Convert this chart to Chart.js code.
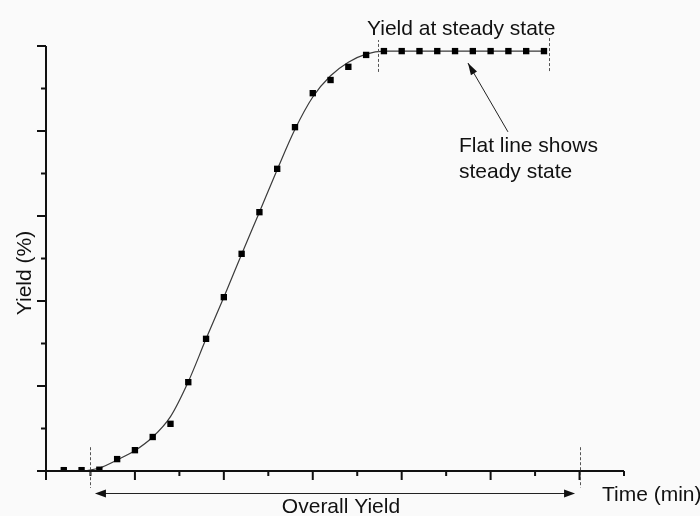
<!DOCTYPE html>
<html>
<head>
<meta charset="utf-8">
<script src="https://cdn.jsdelivr.net/npm/chart.js@4.4.1/dist/chart.umd.min.js"></script>
<style>
  html, body { margin: 0; padding: 0; background: #fafafa; }
  #wrap { width: 700px; height: 516px; position: relative; }
</style>
</head>
<body>
<div id="wrap"><canvas id="yieldChart"></canvas></div>
<script>
// measured yield (%), one sample every 4 min
const sampleTimes = [4, 8, 12, 16, 20, 24, 28, 32, 36, 40, 44, 48, 52, 56,
    60, 64, 68, 72, 76, 80, 84, 88, 92, 96, 100, 104, 108, 112];
const sampleYield = [0.2, 0.2, 0.3, 2.8, 4.9, 8.0, 11.1, 20.9, 31.1, 40.9, 51.1, 60.9, 71.1, 80.9,
    88.9, 92.0, 95.1, 97.9, 98.8, 98.8, 98.8, 98.8, 98.8, 98.8, 98.8, 98.8, 98.8, 98.8];

// fitted curve
const fitTimes = [8.8, 12, 16, 20, 24, 28, 32, 36, 40, 44, 48, 52, 56, 60, 64, 68, 72, 76, 84, 96, 112];
const fitYield = [0, 0.7, 2.6, 4.8, 8.0, 12.8, 21.0, 31.1, 40.9, 51.0, 60.9, 70.9, 80.4, 88.0,
    93.0, 96.2, 98.1, 98.8, 98.8, 98.8, 98.8];

// axis ticks (no labels on either axis)
const xMajorTicks = [0, 20, 40, 60, 80, 100, 120];
const xMinorTicks = [10, 30, 50, 70, 90, 110, 130];
const yMajorTicks = [0, 20, 40, 60, 80, 100];
const yMinorTicks = [10, 30, 50, 70, 90];

const FONT = '21px "Liberation Sans", Arial, sans-serif';
const INK = '#111';

function arrowHead(ctx, fx, fy, tx, ty, len, half) {
    const a = Math.atan2(ty - fy, tx - fx);
    ctx.beginPath();
    ctx.moveTo(tx, ty);
    ctx.lineTo(tx - len * Math.cos(a) + half * Math.sin(a), ty - len * Math.sin(a) - half * Math.cos(a));
    ctx.lineTo(tx - len * Math.cos(a) - half * Math.sin(a), ty - len * Math.sin(a) + half * Math.cos(a));
    ctx.closePath();
    ctx.fill();
}

function dashedV(ctx, x, y, t, fromVal, toVal) {
    const px = Math.round(x.getPixelForValue(t)) + 0.5;
    ctx.beginPath();
    ctx.moveTo(px, y.getPixelForValue(fromVal));
    ctx.lineTo(px, y.getPixelForValue(toVal));
    ctx.stroke();
}

const axesPlugin = {
    id: 'axes',
    afterDatasetsDraw(chart) {
        const { ctx, scales: { x, y } } = chart;
        const x0 = x.getPixelForValue(0), x1 = x.getPixelForValue(130);
        const y0 = y.getPixelForValue(0), y1 = y.getPixelForValue(100);
        ctx.save();
        ctx.strokeStyle = INK;
        ctx.lineWidth = 2;
        ctx.beginPath();
        ctx.moveTo(x0, y1);
        ctx.lineTo(x0, y0);
        ctx.lineTo(x1, y0);
        xMajorTicks.forEach(v => { const p = x.getPixelForValue(v); ctx.moveTo(p, y0); ctx.lineTo(p, y0 + 9); });
        xMinorTicks.forEach(v => { const p = x.getPixelForValue(v); ctx.moveTo(p, y0); ctx.lineTo(p, y0 + 5); });
        yMajorTicks.forEach(v => { const p = y.getPixelForValue(v); ctx.moveTo(x0, p); ctx.lineTo(x0 - 9, p); });
        yMinorTicks.forEach(v => { const p = y.getPixelForValue(v); ctx.moveTo(x0, p); ctx.lineTo(x0 - 5, p); });
        ctx.stroke();
        ctx.restore();
    }
};

const notesPlugin = {
    id: 'notes',
    afterDraw(chart) {
        const { ctx, scales: { x, y } } = chart;
        ctx.save();

        // dashed markers
        ctx.strokeStyle = '#555';
        ctx.lineWidth = 1;
        ctx.setLineDash([3, 2]);
        dashedV(ctx, x, y, 74.7, 93.9, 101.4);
        dashedV(ctx, x, y, 113.1, 94.1, 102.1);
        dashedV(ctx, x, y, 10, 5.6, -4.0);
        dashedV(ctx, x, y, 120, 5.6, -3.9);
        ctx.setLineDash([]);

        // overall yield double arrow
        ctx.strokeStyle = '#222';
        ctx.fillStyle = '#111';
        const ay = Math.round(y.getPixelForValue(-5.2)) + 0.5;
        const ax0 = x.getPixelForValue(11), ax1 = x.getPixelForValue(119);
        ctx.beginPath();
        ctx.moveTo(ax0 + 6, ay);
        ctx.lineTo(ax1 - 6, ay);
        ctx.stroke();
        arrowHead(ctx, ax1, ay, ax0, ay, 11, 4);
        arrowHead(ctx, ax0, ay, ax1, ay, 11, 4);

        // pointer to the flat line
        const fx = x.getPixelForValue(103.9), fy = y.getPixelForValue(79.8);
        const tx = x.getPixelForValue(94.9), ty = y.getPixelForValue(96);
        ctx.beginPath();
        ctx.moveTo(fx, fy);
        ctx.lineTo(tx, ty);
        ctx.stroke();
        arrowHead(ctx, fx, fy, tx, ty, 12, 3.5);

        // texts
        ctx.fillStyle = INK;
        ctx.font = FONT;
        ctx.textBaseline = 'alphabetic';
        ctx.textAlign = 'left';
        ctx.fillText('Yield at steady state', 367, 35);
        ctx.fillText('Flat line shows', 459, 152);
        ctx.fillText('steady state', 459, 178);
        ctx.fillText('Time (min)', 602, 501);
        ctx.textAlign = 'center';
        ctx.fillText('Overall Yield', 341, 513);

        ctx.translate(31, 273);
        ctx.rotate(-Math.PI / 2);
        ctx.fillText('Yield (%)', 0, 0);
        ctx.restore();
    }
};

const ctx = document.getElementById('yieldChart').getContext('2d');
new Chart(ctx, {
    type: 'scatter',
    data: {
        datasets: [
            {
                type: 'scatter',
                data: sampleTimes.map((t, i) => ({ x: t, y: sampleYield[i] })),
                pointStyle: 'rect',
                pointRadius: 4.5,
                backgroundColor: '#000',
                borderWidth: 0,
                order: 0
            },
            {
                type: 'line',
                data: fitTimes.map((t, i) => ({ x: t, y: fitYield[i] })),
                borderColor: '#3a3a3a',
                borderWidth: 1.2,
                pointRadius: 0,
                cubicInterpolationMode: 'monotone',
                fill: false,
                order: 1
            }
        ]
    },
    options: {
        responsive: true,
        maintainAspectRatio: false,
        animation: false,
        layout: { padding: { left: 46, top: 46, right: 76, bottom: 45 } },
        scales: {
            x: { type: 'linear', display: false, min: 0, max: 130 },
            y: { type: 'linear', display: false, min: 0, max: 100 }
        },
        plugins: { legend: { display: false }, tooltip: { enabled: false } }
    },
    plugins: [axesPlugin, notesPlugin]
});
</script>
</body>
</html>
